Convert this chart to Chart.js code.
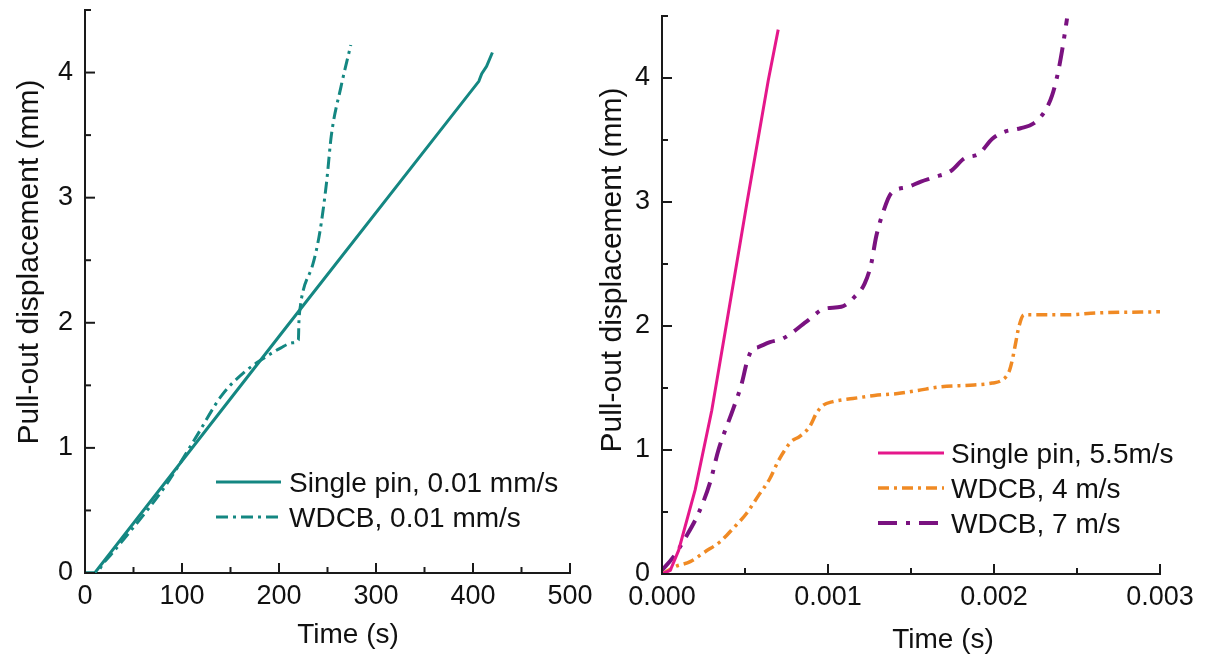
<!DOCTYPE html>
<html>
<head>
<meta charset="utf-8">
<script src="https://cdn.jsdelivr.net/npm/chart.js@4.4.0/dist/chart.umd.min.js"></script>
<style>
  body { margin: 0; background: #fff; }
  #wrap { position: relative; width: 1205px; height: 659px; }
  .box { position: absolute; top: 0; height: 659px; }
  #left { left: 0; width: 600px; }
  #right { left: 588px; width: 617px; }
</style>
</head>
<body>
<div id="wrap">
  <div class="box" id="left"><canvas id="chartLeft"></canvas></div>
  <div class="box" id="right"><canvas id="chartRight"></canvas></div>
</div>
<script>
/* datos */
const yTitle = 'Pull-out displacement (mm)';
const xTitle = 'Time (s)';

// izquierda: ensayo cuasi-estatico
const slowPinLabel = 'Single pin, 0.01 mm/s';
const slowPinTime = [0, 10, 205, 406, 409, 414, 420];
const slowPinDisp = [0, 0, 1.94, 3.93, 3.99, 4.05, 4.16];

const slowWdcbLabel = 'WDCB, 0.01 mm/s';
const slowWdcbTime = [0, 11, 20, 26, 41, 63, 85, 114, 141, 165, 183, 202, 214, 220, 220.5, 222, 225, 235, 242, 249, 254, 264, 274];
const slowWdcbDisp = [0, 0, 0.09, 0.14, 0.28, 0.49, 0.72, 1.08, 1.42, 1.61, 1.71, 1.80, 1.84, 1.86, 2.0, 2.13, 2.26, 2.47, 2.72, 3.12, 3.5, 3.89, 4.22];

// derecha: ensayo dinamico
const fastPinLabel = 'Single pin, 5.5m/s';
const fastPinTime = [0, 0.00005, 0.0001, 0.0002, 0.0003, 0.00038, 0.00051, 0.00064, 0.0007];
const fastPinDisp = [0, 0.03, 0.19, 0.68, 1.32, 1.95, 2.98, 3.98, 4.39];

const wdcb4Label = 'WDCB, 4 m/s';
const wdcb4Time = [0, 0.00008, 0.00017, 0.00026, 0.00035, 0.00043, 0.00051, 0.00058, 0.00065, 0.0007, 0.00074, 0.00078, 0.00083, 0.00089, 0.00093, 0.00097, 0.00103, 0.00115, 0.00128, 0.00142, 0.00154, 0.00168, 0.00188, 0.00199, 0.00205, 0.00209, 0.00211, 0.00213, 0.00215, 0.00218, 0.00228, 0.00244, 0.00262, 0.003];
const wdcb4Disp = [0, 0.06, 0.10, 0.18, 0.26, 0.37, 0.49, 0.63, 0.77, 0.91, 1.0, 1.07, 1.11, 1.19, 1.295, 1.36, 1.39, 1.415, 1.44, 1.455, 1.48, 1.51, 1.525, 1.54, 1.565, 1.63, 1.725, 1.86, 1.995, 2.09, 2.09, 2.09, 2.105, 2.115];

const wdcb7Label = 'WDCB, 7 m/s';
const wdcb7Time = [0, 0.00007, 0.00014, 0.00022, 0.00029, 0.00034, 0.00043, 0.00048, 0.00051, 0.00054, 0.00058, 0.00065, 0.00073, 0.00087, 0.00098, 0.00108, 0.00116, 0.00122, 0.00126, 0.00129, 0.00133, 0.00138, 0.00148, 0.00156, 0.00164, 0.00174, 0.00182, 0.00191, 0.00199, 0.00206, 0.00216, 0.00224, 0.00231, 0.00235, 0.00238, 0.00241, 0.00244];
const wdcb7Disp = [0.03, 0.14, 0.29, 0.49, 0.74, 1.0, 1.335, 1.535, 1.70, 1.805, 1.83, 1.87, 1.90, 2.035, 2.14, 2.155, 2.235, 2.34, 2.50, 2.72, 2.91, 3.07, 3.12, 3.165, 3.2, 3.25, 3.35, 3.39, 3.51, 3.565, 3.595, 3.635, 3.74, 3.86, 4.01, 4.22, 4.48];

const FONT = '"Liberation Sans", Arial, sans-serif';
const AXIS_COLOR = '#1a1a1a';
const TEXT_COLOR = '#111';

function toPoints(xs, ys) {
  return xs.map((x, i) => ({ x: x, y: ys[i] }));
}

// ticks hacia adentro, leyenda y titulos como en Origin
const originStyle = {
  id: 'originStyle',
  afterDraw(chart, args, opts) {
    const ctx = chart.ctx;
    const area = chart.chartArea;
    const xs = chart.scales.x;
    const ys = chart.scales.y;
    ctx.save();
    ctx.strokeStyle = AXIS_COLOR;
    ctx.lineWidth = 2;
    ctx.setLineDash([]);
    for (let i = 0; ys.min + i * opts.yMinor <= ys.max + opts.yMinor * 1e-6; i++) {
      const py = ys.getPixelForValue(ys.min + i * opts.yMinor);
      const len = i % 2 === 0 ? 10 : 6;
      ctx.beginPath();
      ctx.moveTo(area.left, py);
      ctx.lineTo(area.left + len, py);
      ctx.stroke();
    }
    for (let i = 0; xs.min + i * opts.xMinor <= xs.max + opts.xMinor * 1e-6; i++) {
      const px = xs.getPixelForValue(xs.min + i * opts.xMinor);
      const len = i % 2 === 0 ? 10 : 6;
      ctx.beginPath();
      ctx.moveTo(px, area.bottom);
      ctx.lineTo(px, area.bottom - len);
      ctx.stroke();
    }

    // leyenda
    const lg = opts.legend;
    chart.data.datasets.forEach((ds, i) => {
      const y = lg.y + i * lg.row;
      ctx.strokeStyle = ds.borderColor;
      ctx.lineWidth = ds.borderWidth;
      ctx.setLineDash(ds.borderDash || []);
      ctx.beginPath();
      ctx.moveTo(lg.x, y);
      ctx.lineTo(lg.x + lg.width, y);
      ctx.stroke();
      ctx.setLineDash([]);
      ctx.fillStyle = TEXT_COLOR;
      ctx.font = '28px ' + FONT;
      ctx.textAlign = 'left';
      ctx.textBaseline = 'alphabetic';
      ctx.fillText(ds.label, lg.textX, y + 10);
    });

    // titulos de ejes
    ctx.fillStyle = TEXT_COLOR;
    ctx.font = '28px ' + FONT;
    ctx.textAlign = 'center';
    ctx.textBaseline = 'alphabetic';
    ctx.fillText(xTitle, opts.xTitle.x, opts.xTitle.y);
    ctx.save();
    ctx.translate(opts.yTitle.x, opts.yTitle.y);
    ctx.rotate(-Math.PI / 2);
    ctx.font = '30px ' + FONT;
    ctx.fillText(yTitle, 0, 0);
    ctx.restore();
    ctx.restore();
  }
};

function makeChart(canvasId, datasets, cfg) {
  const ctx = document.getElementById(canvasId).getContext('2d');
  return new Chart(ctx, {
    type: 'scatter',
    data: { datasets: datasets },
    options: {
      responsive: true,
      maintainAspectRatio: false,
      animation: false,
      layout: { padding: cfg.padding },
      plugins: {
        legend: { display: false },
        tooltip: { enabled: false },
        originStyle: cfg.style
      },
      elements: { point: { radius: 0 } },
      scales: {
        x: {
          type: 'linear',
          min: cfg.xMin,
          max: cfg.xMax,
          grid: { display: false, drawTicks: false },
          border: { display: true, color: AXIS_COLOR, width: 2 },
          ticks: {
            stepSize: cfg.xStep,
            padding: 7,
            includeBounds: false,
            autoSkip: false,
            maxRotation: 0,
            color: TEXT_COLOR,
            font: { family: FONT, size: 27 },
            callback: cfg.xFormat
          },
          afterFit: s => { s.height = cfg.xHeight; s.paddingLeft = 0; s.paddingRight = 0; }
        },
        y: {
          type: 'linear',
          min: 0,
          max: 4.5,
          grid: { display: false, drawTicks: false },
          border: { display: true, color: AXIS_COLOR, width: 2 },
          ticks: {
            stepSize: 1,
            padding: 12,
            includeBounds: false,
            color: TEXT_COLOR,
            font: { family: FONT, size: 27 }
          },
          afterFit: s => { s.width = cfg.yWidth; s.paddingTop = 0; s.paddingBottom = 0; }
        }
      }
    },
    plugins: [originStyle]
  });
}

const TEAL = '#148782';
const PINK = '#e5178b';
const ORANGE = '#f08a24';
const PURPLE = '#7a1280';

makeChart('chartLeft', [
  {
    label: slowPinLabel,
    data: toPoints(slowPinTime, slowPinDisp),
    showLine: true,
    borderColor: TEAL,
    borderWidth: 3,
    tension: 0
  },
  {
    label: slowWdcbLabel,
    data: toPoints(slowWdcbTime, slowWdcbDisp),
    showLine: true,
    borderColor: TEAL,
    borderWidth: 3,
    borderDash: [12, 5, 3, 5],
    cubicInterpolationMode: 'monotone'
  }
], {
  padding: { left: 0, top: 10, right: 30, bottom: 0 },
  xMin: 0, xMax: 500, xStep: 100,
  xHeight: 86, yWidth: 85,
  xFormat: v => String(v),
  style: {
    xMinor: 50, yMinor: 0.5,
    legend: { x: 216, y: 482, width: 65, row: 35, textX: 289 },
    xTitle: { x: 348, y: 643 },
    yTitle: { x: 38, y: 262 }
  }
});

makeChart('chartRight', [
  {
    label: fastPinLabel,
    data: toPoints(fastPinTime, fastPinDisp),
    showLine: true,
    borderColor: PINK,
    borderWidth: 3,
    tension: 0
  },
  {
    label: wdcb4Label,
    data: toPoints(wdcb4Time, wdcb4Disp),
    showLine: true,
    borderColor: ORANGE,
    borderWidth: 3.5,
    borderDash: [11, 5, 3, 5],
    cubicInterpolationMode: 'monotone'
  },
  {
    label: wdcb7Label,
    data: toPoints(wdcb7Time, wdcb7Disp),
    showLine: true,
    borderColor: PURPLE,
    borderWidth: 4,
    borderDash: [19, 9, 4, 9],
    cubicInterpolationMode: 'monotone'
  }
], {
  padding: { left: 0, top: 16, right: 45, bottom: 0 },
  xMin: 0, xMax: 0.003, xStep: 0.001,
  xHeight: 85, yWidth: 74,
  xFormat: v => Number(v).toFixed(3),
  style: {
    xMinor: 0.0005, yMinor: 0.5,
    legend: { x: 290, y: 453, width: 66, row: 35, textX: 363 },
    xTitle: { x: 355, y: 648 },
    yTitle: { x: 33, y: 270 }
  }
});
</script>
</body>
</html>
